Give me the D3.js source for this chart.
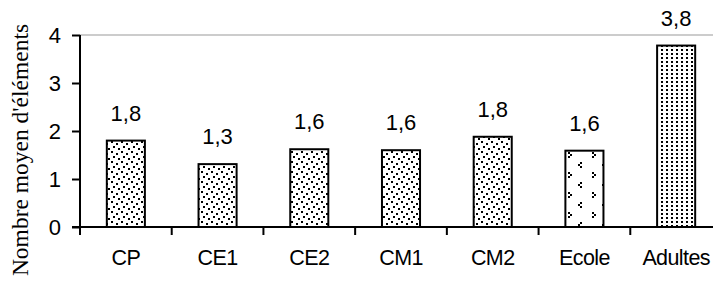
<!DOCTYPE html>
<html>
<head>
<meta charset="utf-8">
<script src="https://cdn.jsdelivr.net/npm/d3@7"></script>
<style>
  html, body { margin: 0; padding: 0; background: #fff; }
  svg { display: block; }
</style>
</head>
<body>
<div id="chart"></div>
<script>
// ── DATA ──────────────────────────────────────────────────────────────────
const categories  = ["CP", "CE1", "CE2", "CM1", "CM2", "Ecole", "Adultes"];
const values      = [1.80, 1.31, 1.62, 1.60, 1.88, 1.59, 3.78];
const valueLabels = ["1,8", "1,3", "1,6", "1,6", "1,8", "1,6", "3,8"];
const fills       = ["dots", "dots", "dots", "dots", "dots", "sparse", "dense"];
const yTicks      = [0, 1, 2, 3, 4];
const yTitle      = "Nombre moyen d'éléments";

// ── LAYOUT ────────────────────────────────────────────────────────────────
const totalW = 713, totalH = 284;
const plot = { left: 80, right: 722, top: 35, bottom: 227 };
const sans = "'Liberation Sans', Arial, sans-serif";

const svg = d3.select("#chart").append("svg")
  .attr("width", totalW)
  .attr("height", totalH);

// ── PATTERNS ──────────────────────────────────────────────────────────────
const defs = svg.append("defs");

const pDots = defs.append("pattern")
  .attr("id", "dots").attr("patternUnits", "userSpaceOnUse")
  .attr("width", 10).attr("height", 10);
pDots.append("rect").attr("width", 10).attr("height", 10).attr("fill", "#fff");
[[1, 1], [6, 3], [3, 6], [8, 8]].forEach(([x, y]) =>
  pDots.append("rect").attr("x", x).attr("y", y).attr("width", 2).attr("height", 2).attr("fill", "#000"));

// Ecole: sparse "<" / ">" marks
const pSparse = defs.append("pattern")
  .attr("id", "sparse").attr("patternUnits", "userSpaceOnUse")
  .attr("width", 24).attr("height", 20);
pSparse.append("rect").attr("width", 24).attr("height", 20).attr("fill", "#fff");
[[4, 2], [2, 4], [4, 6], [16, 12], [18, 14], [16, 16]].forEach(([x, y]) =>
  pSparse.append("rect").attr("x", x).attr("y", y).attr("width", 2).attr("height", 2).attr("fill", "#000"));

const pDense = defs.append("pattern")
  .attr("id", "dense").attr("patternUnits", "userSpaceOnUse")
  .attr("width", 5).attr("height", 4);
pDense.append("rect").attr("width", 5).attr("height", 4).attr("fill", "#fff");
pDense.append("rect").attr("x", 1).attr("y", 1).attr("width", 2).attr("height", 2).attr("fill", "#000");

// ── SCALES ────────────────────────────────────────────────────────────────
const x = d3.scaleBand()
  .domain(categories)
  .range([plot.left, plot.right])
  .paddingInner(0.585)
  .paddingOuter(0.2925);

const y = d3.scaleLinear()
  .domain([0, 4])
  .range([plot.bottom, plot.top]);

// top border of the plot area
svg.append("line")
  .attr("x1", plot.left).attr("x2", plot.right)
  .attr("y1", y(4)).attr("y2", y(4))
  .attr("stroke", "#999").attr("stroke-width", 1);

// ── BARS ──────────────────────────────────────────────────────────────────
svg.append("g").selectAll("rect")
  .data(categories)
  .join("rect")
  .attr("x", d => x(d))
  .attr("y", (d, i) => y(values[i]))
  .attr("width", x.bandwidth())
  .attr("height", (d, i) => y(0) - y(values[i]))
  .attr("fill", (d, i) => `url(#${fills[i]})`)
  .attr("stroke", "#000")
  .attr("stroke-width", 2);

svg.append("g").selectAll("text")
  .data(categories)
  .join("text")
  .attr("x", d => x(d) + x.bandwidth() / 2)
  .attr("y", (d, i) => y(values[i]) - 20)
  .attr("text-anchor", "middle")
  .attr("font-family", sans)
  .attr("font-size", "22px")
  .attr("fill", "#000")
  .text((d, i) => valueLabels[i]);

// ── Y AXIS ────────────────────────────────────────────────────────────────
svg.append("g")
  .attr("transform", `translate(${plot.left},0)`)
  .call(d3.axisLeft(y).tickValues(yTicks).tickSize(8).tickPadding(11).tickFormat(d3.format("d")))
  .call(ax => ax.select(".domain").attr("stroke", "#000").attr("stroke-width", 2)
    .attr("d", `M0,${y(4)}V${y(0)}`))
  .call(ax => ax.selectAll(".tick line").attr("stroke", "#000").attr("stroke-width", 2))
  .call(ax => ax.selectAll(".tick text")
    .attr("font-family", sans)
    .attr("font-size", "22px")
    .attr("fill", "#000"));

// ── X AXIS ────────────────────────────────────────────────────────────────
const boundaries = d3.range(categories.length + 1).map(i => plot.left + i * x.step());

const xg = svg.append("g");
xg.append("line")
  .attr("x1", plot.left - 8).attr("x2", plot.right)
  .attr("y1", y(0)).attr("y2", y(0))
  .attr("stroke", "#000").attr("stroke-width", 2);
xg.selectAll("line.tk")
  .data(boundaries)
  .join("line")
  .attr("class", "tk")
  .attr("x1", d => d).attr("x2", d => d)
  .attr("y1", y(0)).attr("y2", y(0) + 8)
  .attr("stroke", "#000").attr("stroke-width", 2);
xg.selectAll("text")
  .data(categories)
  .join("text")
  .attr("x", d => x(d) + x.bandwidth() / 2)
  .attr("y", y(0) + 38)
  .attr("text-anchor", "middle")
  .attr("font-family", sans)
  .attr("font-size", "21.5px")
  .attr("letter-spacing", "-0.6px")
  .attr("fill", "#000")
  .text(d => d);

// ── Y TITLE ───────────────────────────────────────────────────────────────
svg.append("text")
  .attr("transform", `translate(28,${(23 + 277) / 2}) rotate(-90)`)
  .attr("text-anchor", "middle")
  .attr("font-family", "'Liberation Serif', 'Times New Roman', serif")
  .attr("font-size", "23.5px")
  .attr("fill", "#000")
  .text(yTitle);
</script>
</body>
</html>
